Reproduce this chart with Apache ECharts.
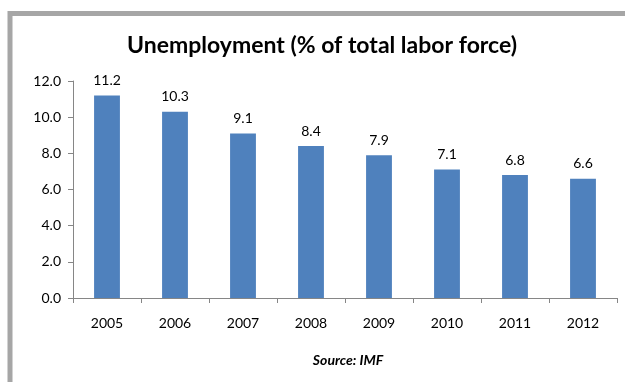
<!DOCTYPE html>
<html>
<head>
<meta charset="utf-8">
<script src="https://cdn.jsdelivr.net/npm/echarts@6/dist/echarts.min.js"></script>
<style>
  html, body { margin: 0; padding: 0; background: #fff; }
  #chart { width: 625px; height: 382px; }
</style>
</head>
<body>
<div id="chart"></div>
<script>
  // data
  var years = ['2005', '2006', '2007', '2008', '2009', '2010', '2011', '2012'];
  var unemployment = [11.2, 10.3, 9.1, 8.4, 7.9, 7.1, 6.8, 6.6];
  var yTicks = { min: 0, max: 12, step: 2 };

  var font = 'Lato, "Open Sans", sans-serif';
  var chart = echarts.init(document.getElementById('chart'));
  chart.setOption({
    animation: false,
    backgroundColor: '#fff',
    graphic: [
      { // outer frame, cut off at right and bottom
        type: 'rect', silent: true,
        shape: { x: 10, y: 13.5, width: 700, height: 500 },
        style: { fill: null, stroke: '#a6a6a6', lineWidth: 5 }
      },
      {
        type: 'text', silent: true,
        style: { x: 322, y: 46, text: 'Unemployment (% of total labor force)',
                 fontFamily: font, fontSize: 23, fontWeight: 'bold', fill: '#000',
                 align: 'center', verticalAlign: 'middle' }
      },
      {
        type: 'text', silent: true,
        style: { x: 348, y: 360, text: 'Source: IMF', fontFamily: font, fontSize: 14,
                 fontStyle: 'italic', fontWeight: 'bold', fill: '#000',
                 align: 'center', verticalAlign: 'middle' }
      }
    ],
    grid: { left: 73, right: 8, top: 81, bottom: 84 },
    xAxis: {
      type: 'category',
      data: years,
      axisLine: { lineStyle: { color: '#868686' } },
      axisTick: { show: true, length: 5, lineStyle: { color: '#868686' } },
      axisLabel: { fontFamily: font, fontSize: 14, color: '#000', margin: 18 }
    },
    yAxis: {
      type: 'value',
      min: yTicks.min, max: yTicks.max, interval: yTicks.step,
      splitLine: { show: false },
      axisLine: { show: true, lineStyle: { color: '#868686' } },
      axisTick: { show: true, length: 5, lineStyle: { color: '#868686' } },
      axisLabel: {
        fontFamily: font, fontSize: 14, color: '#000', margin: 12,
        formatter: function (v) { return v.toFixed(1); }
      }
    },
    series: [{
      type: 'bar',
      data: unemployment,
      barWidth: '38%',
      itemStyle: { color: '#4f81bd' },
      label: {
        show: true, position: 'top', distance: 8,
        fontFamily: font, fontSize: 14, color: '#000',
        formatter: function (p) { return p.value.toFixed(1); }
      }
    }]
  });
</script>
</body>
</html>
